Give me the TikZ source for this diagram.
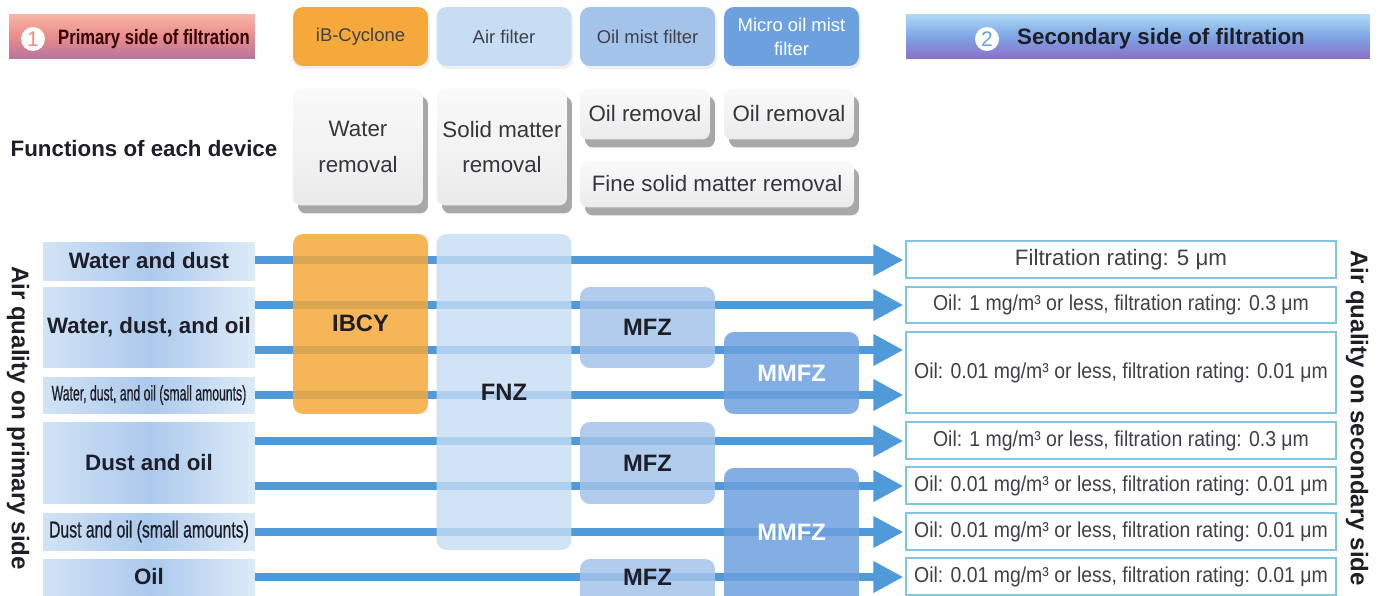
\documentclass[tikz,border=0pt]{standalone}
\usepackage{fontspec}
\setmainfont{Liberation Sans}
\newfontfamily\narrowfont[FakeStretch=0.8]{Liberation Sans}
\newfontfamily\condfont[FakeStretch=0.58,FakeBold=0.6]{Liberation Sans}
\newfontfamily\semicondfont[FakeStretch=0.68,FakeBold=0.6]{Liberation Sans}
\newfontfamily\resultfont[FakeStretch=0.9]{Liberation Sans}
\usetikzlibrary{arrows.meta,shadows}

\definecolor{cyorange}{HTML}{F4A93A}
\definecolor{airblue}{HTML}{C6DDF3}
\definecolor{mistblue}{HTML}{A3C3EA}
\definecolor{microblue}{HTML}{6CA0DE}
\definecolor{flowblue}{HTML}{4F9BD9}
\definecolor{outline}{HTML}{80C6E0}
\definecolor{textdark}{HTML}{1E1E28}
\definecolor{salmon}{HTML}{EE8F7C}
\definecolor{primtop}{RGB}{247,182,166}
\definecolor{primmid}{RGB}{234,140,138}
\definecolor{primbot}{RGB}{182,116,160}
\definecolor{sectop}{RGB}{175,218,246}
\definecolor{secmid}{RGB}{125,165,228}
\definecolor{secbot}{RGB}{140,110,200}

\begin{document}
\begin{tikzpicture}[x=0.02cm, y=-0.02cm,
    devhead/.style={rounded corners=0.2cm, minimum width=2.7cm, minimum height=1.18cm,
      align=center, inner sep=1pt, font=\fontsize{10.5}{13.6}\selectfont, text=textdark!85,
      drop shadow={opacity=0.12, shadow xshift=0.04cm, shadow yshift=-0.06cm}},
    func/.style={rounded corners=0.16cm, top color=gray!4, bottom color=gray!16,
      drop shadow={shadow xshift=0.1cm, shadow yshift=-0.16cm, opacity=0.55, fill=gray!75!black},
      align=center, inner sep=1pt, font=\fontsize{12.7}{20.4}\selectfont, text=textdark!90},
    dev/.style={rounded corners=0.2cm, minimum width=2.7cm, fill opacity=0.85, text opacity=1,
      font=\bfseries\fontsize{13.5}{15}\selectfont, text=textdark},
    quality/.style={minimum width=4.24cm, inner sep=0pt, left color=airblue!80,
      right color=airblue!60, middle color=mistblue!90, font=\bfseries\fontsize{12.7}{14}\selectfont,
      text=textdark},
    result/.style={draw=outline, line width=0.8pt, fill=white, minimum width=8.6cm,
      inner sep=0pt, font=\resultfont\fontsize{12.3}{14}\selectfont, text=textdark!85},
    flow/.style={draw=flowblue, line width=4pt, shorten >=0.04cm,
      -{Triangle[length=17pt,width=17pt]}}]

\clip (0,0) rectangle (1382,595);

% headers
\node[top color=primtop, bottom color=primbot, middle color=primmid,
  minimum width=4.92cm, minimum height=0.9cm] (prim) at (132,36.5) {};
\node[circle, fill=white, minimum size=0.48cm, inner sep=0pt, text=salmon,
  font=\fontsize{12}{12}\selectfont] (one) at (33,39) {1};
\node[anchor=west, font=\narrowfont\bfseries\fontsize{11.85}{13}\selectfont, text=black!80!red]
  (primtxt) at (52,39) {Primary side of filtration};

\node[top color=sectop, bottom color=secbot, middle color=secmid,
  minimum width=9.28cm, minimum height=0.9cm] (sec) at (1138,36.5) {};
\node[circle, fill=white, minimum size=0.48cm, inner sep=0pt, text=microblue,
  font=\fontsize{12}{12}\selectfont] (two) at (987,39) {2};
\node[anchor=west, font=\bfseries\fontsize{12.7}{14}\selectfont, text=textdark]
  (sectxt) at (1011,39) {Secondary side of filtration};

% device names
\node[devhead, fill=cyorange] (hcy) at (360.5,36.5) {iB-Cyclone};
\node[devhead, fill=airblue] (hair) at (504,36.5) {Air filter};
\node[devhead, fill=mistblue] (hmist) at (647.5,36.5) {Oil mist filter};
\node[devhead, fill=microblue, text=white] (hmicro) at (791.5,36.5) {Micro oil mist\\filter};

% functions
\node[font=\bfseries\fontsize{12.7}{14}\selectfont, text=textdark] (functxt) at (144,149)
  {Functions of each device};
\node[func, minimum width=2.6cm, minimum height=2.34cm] (fwater) at (358,147) {Water\\removal};
\node[func, minimum width=2.6cm, minimum height=2.34cm] (fsolid) at (502,147) {Solid matter\\removal};
\node[func, minimum width=2.6cm, minimum height=1.02cm] (foila) at (645,114) {Oil removal};
\node[func, minimum width=2.6cm, minimum height=1.02cm] (foilb) at (789,114) {Oil removal};
\node[func, minimum width=5.48cm, minimum height=0.94cm] (ffine) at (717,184) {Fine solid matter removal};

% air quality on primary side
\node[quality, minimum height=0.76cm] (lab1) at (149,261) {Water and dust};
\node[quality, minimum height=1.62cm] (lab2) at (149,327.5) {Water, dust, and oil};
\node[quality, minimum height=0.72cm, font=\condfont\fontsize{12}{13}\selectfont] (lab3) at (149,395)
  {Water, dust, and oil (small amounts)};
\node[quality, minimum height=1.64cm] (lab4) at (149,463) {Dust and oil};
\node[quality, minimum height=0.74cm, font=\semicondfont\fontsize{13.2}{15}\selectfont] (lab5) at (149,531.5)
  {Dust and oil (small amounts)};
\node[quality, minimum height=0.72cm] (lab6) at (149,577) {Oil};
\node[rotate=-90, font=\bfseries\fontsize{13.7}{15}\selectfont, text=textdark] (primside) at (18,418)
  {Air quality on primary side};

% air quality on secondary side
\node[result, minimum height=0.74cm, font=\fontsize{12.7}{14}\selectfont] (out1) at (1121,259.5)
  {Filtration rating: 5 μm};
\node[result, minimum height=0.72cm] (out2) at (1121,305) {Oil: 1 mg/m³ or less, filtration rating: 0.3 μm};
\node[result, minimum height=1.62cm] (out3) at (1121,372.5) {Oil: 0.01 mg/m³ or less, filtration rating: 0.01 μm};
\node[result, minimum height=0.74cm] (out4) at (1121,440.5) {Oil: 1 mg/m³ or less, filtration rating: 0.3 μm};
\node[result, minimum height=0.74cm] (out5) at (1121,485.5) {Oil: 0.01 mg/m³ or less, filtration rating: 0.01 μm};
\node[result, minimum height=0.74cm] (out6) at (1121,531.5) {Oil: 0.01 mg/m³ or less, filtration rating: 0.01 μm};
\node[result, minimum height=0.74cm] (out7) at (1121,576.5) {Oil: 0.01 mg/m³ or less, filtration rating: 0.01 μm};
\node[rotate=-90, font=\bfseries\fontsize{13.7}{15}\selectfont, text=textdark] (secside) at (1357,418)
  {Air quality on secondary side};

% flows
\foreach \src/\dst/\y in {lab1/out1/260, lab2/out2/305, lab2/out3/350, lab3/out3/395,
                          lab4/out4/441, lab4/out5/486, lab5/out6/532, lab6/out7/577}
  \draw[flow] (\src.east |- 0,\y) -- (\dst.west |- 0,\y);

% devices
\node[dev, fill=cyorange, minimum height=3.6cm] (ibcy) at (360.5,324) {};
\node[dev] at (360.5,323) {IBCY};
\node[dev, fill=airblue, minimum height=6.32cm, fill opacity=0.8] (fnz) at (504,392) {FNZ};
\node[dev, fill=mistblue, minimum height=1.62cm] (mfza) at (647.5,327.5) {MFZ};
\node[dev, fill=microblue, minimum height=1.64cm, text=white] (mmfza) at (791.5,373) {MMFZ};
\node[dev, fill=mistblue, minimum height=1.64cm] (mfzb) at (647.5,463) {MFZ};
\node[dev, fill=microblue, minimum height=2.9cm] (mmfzb) at (791.5,540.5) {};
\node[dev, text=white] at (791.5,532) {MMFZ};
\node[dev, fill=mistblue, minimum height=1.04cm] (mfzc) at (647.5,585) {};
\node[dev] at (647.5,577) {MFZ};
\end{tikzpicture}
\end{document}
